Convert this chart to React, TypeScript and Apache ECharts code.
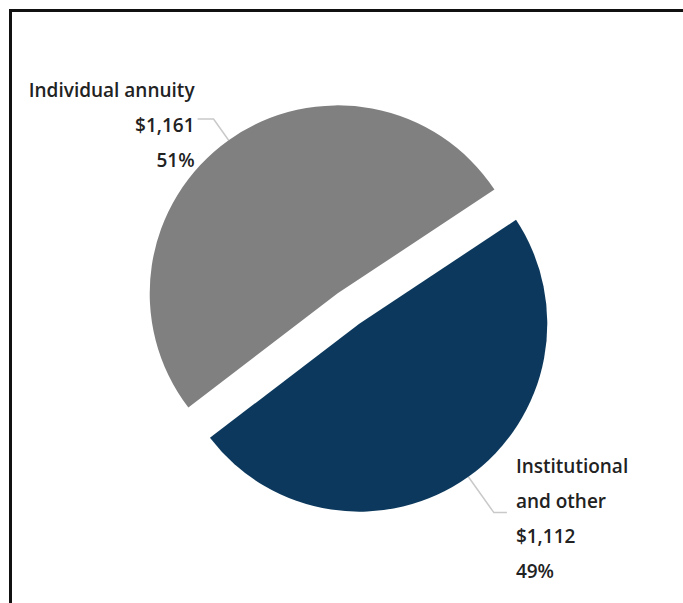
import React, { useEffect, useRef } from "react";
import * as echarts from "echarts";

const categories = ["Individual annuity", "Institutional\nand other"];
const amounts = ["$1,161", "$1,112"];
const values = [1161, 1112];
const percents = ["51%", "49%"];
const colors = ["#808080", "#0b385c"];

export default function App() {
  const ref = useRef<HTMLDivElement>(null);
  useEffect(() => {
    const chart = echarts.init(ref.current!, null, { renderer: "svg" });
    const lineCfg = [
      { length: 26, length2: 16, dist: 3 },
      { length: 44, length2: 13, dist: 9 },
    ];
    const textStyle = {
      fontFamily: "Open Sans",
      fontSize: 19,
      fontWeight: 600,
      lineHeight: 35,
      color: "#222222",
    };
    chart.setOption({
      animation: false,
      backgroundColor: "#ffffff",
      graphic: [
        { type: "rect", shape: { x: 9, y: 9, width: 680, height: 3 }, style: { fill: "#111" } },
        { type: "rect", shape: { x: 9, y: 9, width: 3, height: 600 }, style: { fill: "#111" } },
      ],
      series: [
        {
          type: "pie",
          center: [348.5, 308.5],
          radius: [0, 188],
          startAngle: 217.4,
          clockwise: true,
          selectedMode: "multiple",
          selectedOffset: 18.6,
          avoidLabelOverlap: false,
          emphasis: { disabled: true },
          label: {
            show: true,
            position: "outside",
            ...textStyle,
            rich: {
              s: { height: 12, lineHeight: 12 },
              t: { ...textStyle },
            },
          },
          labelLine: {
            show: true,
            lineStyle: { color: "#c9c9c9", width: 1.5 },
          },
          data: values.map((v, i) => ({
            name: categories[i],
            value: v,
            selected: true,
            itemStyle: { color: colors[i] },
            label: {
              formatter:
                "{s|}\n" +
                [...categories[i].split("\n"), amounts[i], percents[i]]
                  .map((l) => `{t|${l}}`)
                  .join("\n"),
              distanceToLabelLine: lineCfg[i].dist,
            },
            labelLine: { length: lineCfg[i].length, length2: lineCfg[i].length2 },
            select: { itemStyle: { color: colors[i] } },
          })),
        },
      ],
    });
    return () => chart.dispose();
  }, []);
  return (
    <div
      ref={ref}
      style={{ position: "absolute", left: 0, top: 0, width: 683, height: 603 }}
    />
  );
}
